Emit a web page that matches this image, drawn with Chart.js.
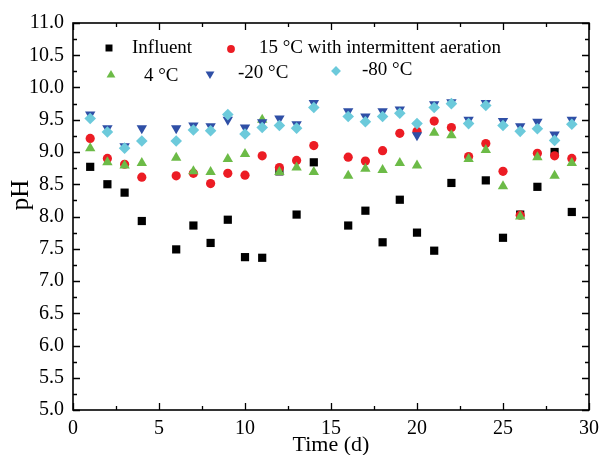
<!DOCTYPE html>
<html>
<head>
<meta charset="utf-8">
<script src="https://cdn.jsdelivr.net/npm/chart.js@4.4.0/dist/chart.umd.min.js"></script>
<style>
  html, body { margin: 0; padding: 0; background: #fff; }
  #wrap { width: 606px; height: 455px; position: relative; }
</style>
</head>
<body>
<div id="wrap"><canvas id="myChart" width="606" height="455"></canvas></div>
<script>
const days = [1, 2, 3, 4, 6, 7, 8, 9, 10, 11, 12, 13, 14, 16, 17, 18, 19, 20, 21, 22, 23, 24, 25, 26, 27, 28, 29];

const influent = [8.77, 8.50, 8.37, 7.93, 7.49, 7.86, 7.59, 7.95, 7.37, 7.36, 8.70, 8.03, 8.84, 7.86, 8.09, 7.60, 8.26, 7.75, 7.47, 8.52, null, 8.56, 7.67, 8.03, 8.46, 9.00, 8.07];
const aerated15 = [9.21, 8.90, 8.81, 8.61, 8.63, 8.67, 8.51, 8.67, 8.64, 8.94, 8.76, 8.87, 9.10, 8.92, 8.86, 9.02, 9.29, 9.32, 9.48, 9.38, 8.93, 9.13, 8.70, 8.02, 8.98, 8.94, 8.90];
const temp4 = [9.06, 8.84, 8.79, 8.83, 8.91, 8.70, 8.69, 8.89, 8.97, 9.50, 8.69, 8.76, 8.69, 8.63, 8.74, 8.72, 8.83, 8.79, 9.30, 9.26, 8.89, 9.03, 8.47, 8.00, 8.92, 8.63, 8.83];
const minus20 = [9.58, 9.37, 9.09, 9.37, 9.37, 9.41, 9.40, 9.50, 9.38, 9.46, 9.52, 9.43, 9.76, 9.63, 9.55, 9.63, 9.66, 9.26, 9.74, 9.77, 9.50, 9.76, 9.48, 9.40, 9.47, 9.27, 9.50];
const minus80 = [9.52, 9.31, 9.06, 9.17, 9.17, 9.34, 9.33, 9.58, 9.28, 9.38, 9.41, 9.37, 9.69, 9.55, 9.47, 9.55, 9.60, 9.44, 9.69, 9.75, 9.44, 9.72, 9.41, 9.32, 9.36, 9.18, 9.43];

const seriesLabels = ['Influent', '15 \u00B0C with intermittent aeration', '4 \u00B0C', '-20 \u00B0C', '-80 \u00B0C'];
const xTicks = [0, 5, 10, 15, 20, 25, 30];
const yTicks = [5.0, 5.5, 6.0, 6.5, 7.0, 7.5, 8.0, 8.5, 9.0, 9.5, 10.0, 10.5, 11.0];

const FONT = 'Liberation Serif';

function pts(values) {
  const out = [];
  values.forEach((v, i) => {
    if (v !== null) out.push({ x: days[i], y: v });
  });
  return out;
}

const styles = [
  { color: '#000000', pointStyle: 'rect', radius: 5.8, rotation: 0 },
  { color: '#ec1c24', pointStyle: 'circle', radius: 4.6, rotation: 0 },
  { color: '#6cbb47', pointStyle: 'triangle', radius: 6, rotation: 0 },
  { color: '#2f4fa6', pointStyle: 'triangle', radius: 6, rotation: 180 },
  { color: '#6ccadb', pointStyle: 'rectRot', radius: 5.8, rotation: 0 }
];
const allValues = [influent, aerated15, temp4, minus20, minus80];

const datasets = allValues.map((vals, i) => ({
  label: seriesLabels[i],
  data: pts(vals),
  showLine: false,
  pointStyle: styles[i].pointStyle,
  pointRotation: styles[i].rotation,
  pointRadius: styles[i].radius,
  pointHoverRadius: styles[i].radius,
  pointBackgroundColor: styles[i].color,
  pointBorderColor: styles[i].color,
  pointBorderWidth: 0,
  order: 5 - i
}));

// frame, inward ticks, y title and legend
const decor = {
  id: 'decor',
  afterDraw(chart) {
    const ctx = chart.ctx;
    const a = chart.chartArea;
    const xs = chart.scales.x, ys = chart.scales.y;
    ctx.save();
    ctx.strokeStyle = '#000';
    ctx.lineWidth = 1.6;
    ctx.strokeRect(a.left, a.top, a.right - a.left, a.bottom - a.top);
    ctx.lineWidth = 1.3;
    ctx.beginPath();
    for (let v = 0; v <= 30; v += 2.5) {
      const px = Math.round(xs.getPixelForValue(v)) + 0.5;
      const len = (v % 5 === 0) ? 7 : 4;
      ctx.moveTo(px, a.bottom); ctx.lineTo(px, a.bottom - len);
      ctx.moveTo(px, a.top); ctx.lineTo(px, a.top + len);
    }
    for (let v = 5; v <= 11.001; v += 0.25) {
      const py = Math.round(ys.getPixelForValue(v)) + 0.5;
      const len = (Math.abs(v * 2 - Math.round(v * 2)) < 1e-6) ? 7 : 4;
      ctx.moveTo(a.left, py); ctx.lineTo(a.left + len, py);
      ctx.moveTo(a.right, py); ctx.lineTo(a.right - len, py);
    }
    ctx.stroke();

    // y axis title
    ctx.fillStyle = '#000';
    ctx.font = '25px "' + FONT + '"';
    ctx.textAlign = 'center';
    ctx.textBaseline = 'middle';
    ctx.translate(21, 195);
    ctx.rotate(-Math.PI / 2);
    ctx.fillText('pH', 0, 0);
    ctx.restore();

    // legend
    const items = [
      { mx: 109, my: 48, tx: 132, ty: 48 },
      { mx: 231, my: 49, tx: 259, ty: 48 },
      { mx: 111, my: 75, tx: 144, ty: 76 },
      { mx: 210, my: 74, tx: 238, ty: 73 },
      { mx: 336, my: 71, tx: 362, ty: 70 }
    ];
    ctx.save();
    ctx.font = '19px "' + FONT + '"';
    ctx.textBaseline = 'middle';
    ctx.textAlign = 'left';
    items.forEach((it, i) => {
      const s = styles[i];
      ctx.fillStyle = s.color;
      ctx.strokeStyle = s.color;
      ctx.lineWidth = 0.01;
      Chart.helpers.drawPoint(ctx, { pointStyle: s.pointStyle, radius: s.radius * 0.85, rotation: s.rotation, borderWidth: 0 }, it.mx, it.my);
      ctx.fillStyle = '#000';
      ctx.fillText(seriesLabels[i], it.tx, it.ty);
    });
    ctx.restore();
  }
};

const ctx = document.getElementById('myChart').getContext('2d');
new Chart(ctx, {
  type: 'scatter',
  data: { datasets: datasets },
  options: {
    responsive: false,
    animation: false,
    devicePixelRatio: 1,
    layout: { padding: { left: 0, top: 23, right: 10, bottom: 0 } },
    plugins: {
      legend: { display: false },
      tooltip: { enabled: false }
    },
    scales: {
      x: {
        type: 'linear',
        min: 0,
        max: 30,
        afterBuildTicks: (scale) => { scale.ticks = xTicks.map(v => ({ value: v })); },
        afterFit: (scale) => { scale.height = 45; },
        grid: { display: false, drawTicks: false },
        border: { display: false },
        ticks: {
          color: '#000',
          padding: 7,
          maxRotation: 0,
          font: { family: FONT, size: 20 }
        },
        title: {
          display: true,
          text: 'Time (d)',
          color: '#000',
          padding: { top: 0, bottom: -1 },
          font: { family: FONT, size: 22, lineHeight: 1 }
        }
      },
      y: {
        type: 'linear',
        min: 5,
        max: 11,
        afterBuildTicks: (scale) => { scale.ticks = yTicks.map(v => ({ value: v })); },
        afterFit: (scale) => { scale.width = 73; },
        grid: { display: false, drawTicks: false },
        border: { display: false },
        ticks: {
          color: '#000',
          padding: 9,
          callback: (v) => Number(v).toFixed(1),
          font: { family: FONT, size: 20 }
        }
      }
    }
  },
  plugins: [decor]
});
</script>
</body>
</html>
